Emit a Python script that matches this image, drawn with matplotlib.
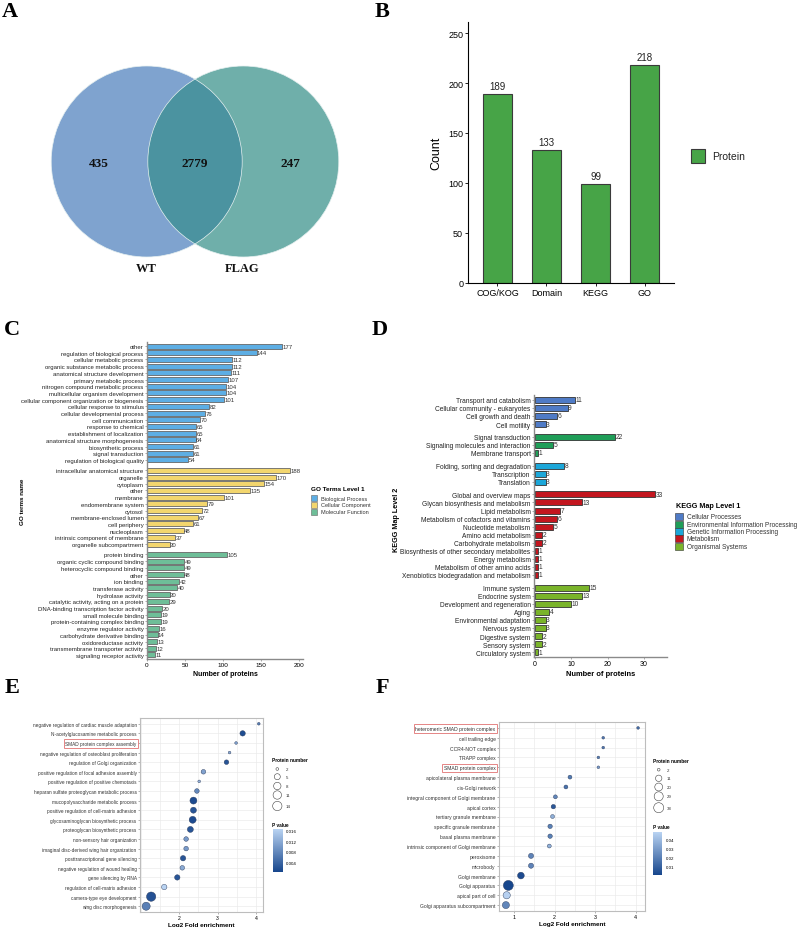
import matplotlib
matplotlib.use("Agg")
import matplotlib.pyplot as plt
import numpy as np
from matplotlib.patches import Circle, Rectangle
from matplotlib.colors import LinearSegmentedColormap, Normalize
from matplotlib.cm import ScalarMappable

plt.rcParams['font.family'] = ['Liberation Sans', 'DejaVu Sans']

# ---------------- data ----------------
venn_sets = ['WT', 'FLAG']
venn_counts = [435, 2779, 247]          # WT only, shared, FLAG only

anno_db = ['COG/KOG', 'Domain', 'KEGG', 'GO']
anno_counts = [189, 133, 99, 218]

go_levels = ['Biological Process', 'Cellular Component', 'Molecular Function']
go_bp_terms = ['other', 'regulation of biological process', 'cellular metabolic process',
               'organic substance metabolic process', 'anatomical structure development',
               'primary metabolic process', 'nitrogen compound metabolic process',
               'multicellular organism development', 'cellular component organization or biogenesis',
               'cellular response to stimulus', 'cellular developmental process', 'cell communication',
               'response to chemical', 'establishment of localization',
               'anatomical structure morphogenesis', 'biosynthetic process', 'signal transduction',
               'regulation of biological quality']
go_bp_counts = [177, 144, 112, 112, 111, 107, 104, 104, 101, 82, 76, 70, 65, 65, 64, 61, 61, 54]
go_cc_terms = ['intracellular anatomical structure', 'organelle', 'cytoplasm', 'other', 'membrane',
               'endomembrane system', 'cytosol', 'membrane-enclosed lumen', 'cell periphery',
               'nucleoplasm', 'intrinsic component of membrane', 'organelle subcompartment']
go_cc_counts = [188, 170, 154, 135, 101, 79, 72, 67, 61, 48, 37, 30]
go_mf_terms = ['protein binding', 'organic cyclic compound binding', 'heterocyclic compound binding',
               'other', 'ion binding', 'transferase activity', 'hydrolase activity',
               'catalytic activity, acting on a protein', 'DNA-binding transcription factor activity',
               'small molecule binding', 'protein-containing complex binding',
               'enzyme regulator activity', 'carbohydrate derivative binding',
               'oxidoreductase activity', 'transmembrane transporter activity',
               'signaling receptor activity']
go_mf_counts = [105, 49, 49, 48, 42, 40, 30, 29, 20, 19, 19, 16, 14, 13, 12, 11]

kegg_levels = ['Cellular Processes', 'Environmental Information Processing',
               'Genetic Information Processing', 'Metabolism', 'Organismal Systems']
kegg_cp_terms = ['Transport and catabolism', 'Cellular community - eukaryotes',
                 'Cell growth and death', 'Cell motility']
kegg_cp_counts = [11, 9, 6, 3]
kegg_eip_terms = ['Signal transduction', 'Signaling molecules and interaction', 'Membrane transport']
kegg_eip_counts = [22, 5, 1]
kegg_gip_terms = ['Folding, sorting and degradation', 'Transcription', 'Translation']
kegg_gip_counts = [8, 3, 3]
kegg_met_terms = ['Global and overview maps', 'Glycan biosynthesis and metabolism', 'Lipid metabolism',
                  'Metabolism of cofactors and vitamins', 'Nucleotide metabolism',
                  'Amino acid metabolism', 'Carbohydrate metabolism',
                  'Biosynthesis of other secondary metabolites', 'Energy metabolism',
                  'Metabolism of other amino acids', 'Xenobiotics biodegradation and metabolism']
kegg_met_counts = [33, 13, 7, 6, 5, 2, 2, 1, 1, 1, 1]
kegg_os_terms = ['Immune system', 'Endocrine system', 'Development and regeneration', 'Aging',
                 'Environmental adaptation', 'Nervous system', 'Digestive system',
                 'Sensory system', 'Circulatory system']
kegg_os_counts = [15, 13, 10, 4, 3, 3, 2, 2, 1]

e_terms = ['negative regulation of cardiac muscle adaptation', 'N-acetylglucosamine metabolic process',
           'SMAD protein complex assembly', 'negative regulation of osteoblast proliferation',
           'regulation of Golgi organization', 'positive regulation of focal adhesion assembly',
           'positive regulation of positive chemotaxis',
           'heparan sulfate proteoglycan metabolic process', 'mucopolysaccharide metabolic process',
           'positive regulation of cell-matrix adhesion', 'glycosaminoglycan biosynthetic process',
           'proteoglycan biosynthetic process', 'non-sensory hair organization',
           'imaginal disc-derived wing hair organization', 'posttranscriptional gene silencing',
           'negative regulation of wound healing', 'gene silencing by RNA',
           'regulation of cell-matrix adhesion', 'camera-type eye development',
           'wing disc morphogenesis']
e_fold = [4.07, 3.65, 3.48, 3.31, 3.23, 2.63, 2.52, 2.46, 2.37, 2.37, 2.35, 2.29, 2.18, 2.18,
          2.10, 2.08, 1.95, 1.61, 1.27, 1.14]
e_count = [2, 4, 2, 2, 3, 3, 2, 3, 7, 5, 7, 5, 3, 3, 4, 3, 4, 4, 14, 10]
e_pval = [0.007, 0.001, 0.011, 0.012, 0.002, 0.011, 0.013, 0.008, 0.0008, 0.002, 0.0008, 0.002,
          0.010, 0.010, 0.002, 0.012, 0.002, 0.0167, 0.0015, 0.007]
e_highlight = ['SMAD protein complex assembly']

f_terms = ['heteromeric SMAD protein complex', 'cell trailing edge', 'CCR4-NOT complex',
           'TRAPP complex', 'SMAD protein complex', 'apicolateral plasma membrane',
           'cis-Golgi network', 'integral component of Golgi membrane', 'apical cortex',
           'tertiary granule membrane', 'specific granule membrane', 'basal plasma membrane',
           'intrinsic component of Golgi membrane', 'peroxisome', 'microbody', 'Golgi membrane',
           'Golgi apparatus', 'apical part of cell', 'Golgi apparatus subcompartment']
f_fold = [4.06, 3.20, 3.20, 3.08, 3.08, 2.38, 2.28, 2.02, 1.97, 1.95, 1.89, 1.89, 1.87,
          1.42, 1.42, 1.17, 0.86, 0.82, 0.80]
f_count = [2, 2, 2, 2, 2, 3, 3, 3, 4, 3, 4, 4, 3, 6, 6, 13, 38, 16, 15]
f_pval = [0.014, 0.017, 0.017, 0.02, 0.03, 0.018, 0.015, 0.022, 0.006, 0.036, 0.02, 0.02, 0.036,
          0.021, 0.021, 0.002, 0.0003, 0.047, 0.022]
f_highlight = ['heteromeric SMAD protein complex', 'SMAD protein complex']

# ---------------- figure ----------------
W, H = 798, 928
fig = plt.figure(figsize=(W / 100, H / 100), dpi=100)


def ax_px(l, t, r, b, **kw):
    return fig.add_axes([l / W, 1 - b / H, (r - l) / W, (b - t) / H], **kw)


# ---- B: annotation counts ----
axB = ax_px(468, 23, 674, 284)
xb = np.arange(1, len(anno_db) + 1)
axB.bar(xb, anno_counts, width=0.6, color='#47A447', edgecolor='#3a3a3a', linewidth=0.8)
for x, v in zip(xb, anno_counts):
    axB.text(x, v + 3, str(v), ha='center', va='bottom', fontsize=7, color='#222')
axB.set_xlim(0.4, 4.6)
axB.set_ylim(0, 261)
axB.set_xticks(xb, anno_db, fontsize=6.5)
axB.set_yticks([0, 50, 100, 150, 200, 250])
axB.tick_params(axis='y', labelsize=6.5, length=2, width=0.6, pad=1.5)
axB.tick_params(axis='x', length=2, width=0.6, pad=1.5)
axB.set_ylabel('Count', fontsize=9, labelpad=4)
for s in ['top', 'right']:
    axB.spines[s].set_visible(False)
for s in ['left', 'bottom']:
    axB.spines[s].set_linewidth(0.8)


# ---- grouped horizontal bars helper ----
def group_hbar(ax, term_lists, value_lists, colors, edge, gap, height, fs, lab_off):
    ys, vals, cols, labs = [], [], [], []
    y = 0.0
    for terms, values, col in zip(term_lists, value_lists, colors):
        for t, v in zip(terms, values):
            ys.append(y); vals.append(v); cols.append(col); labs.append(t)
            y += 1
        y += gap
    ax.barh(ys, vals, height=height, color=cols, edgecolor=edge, linewidth=0.6)
    for yy, v in zip(ys, vals):
        ax.text(v + lab_off, yy, str(v), va='center', ha='left', fontsize=fs, color='#333')
    ax.set_yticks(ys)
    ax.set_yticklabels(labs, fontsize=fs, color='#222')
    ax.set_ylim(ys[-1] + 0.6, -0.6)
    for s in ['top', 'right']:
        ax.spines[s].set_visible(False)
    for s in ['left', 'bottom']:
        ax.spines[s].set_color('#8a8a8a')
        ax.spines[s].set_linewidth(1.0)
    ax.tick_params(length=1.5, width=0.5, color='#888', pad=1)


# ---- C: GO ----
go_colors = ['#5DAEE4', '#F3D66E', '#6EBE98']
axC = ax_px(147, 343, 303, 660)
group_hbar(axC, [go_bp_terms, go_cc_terms, go_mf_terms],
           [go_bp_counts, go_cc_counts, go_mf_counts], go_colors, '#666666', 0.55, 0.75, 4.3, 0.5)
axC.set_xlim(0, 205)
axC.set_xticks([0, 50, 100, 150, 200])
axC.tick_params(axis='x', labelsize=4.6)
axC.set_xlabel('Number of proteins', fontsize=5, fontweight='bold', labelpad=2)

# ---- D: KEGG ----
kegg_colors = ['#4F7BC6', '#1F9E58', '#1CA7D9', '#C3161F', '#7AB42A']
axD = ax_px(534, 396, 667, 658)
group_hbar(axD, [kegg_cp_terms, kegg_eip_terms, kegg_gip_terms, kegg_met_terms, kegg_os_terms],
           [kegg_cp_counts, kegg_eip_counts, kegg_gip_counts, kegg_met_counts, kegg_os_counts],
           kegg_colors, '#333333', 0.58, 0.75, 4.8, 0.15)
axD.set_xlim(-0.2, 36.3)
axD.set_xticks([0, 10, 20, 30])
axD.tick_params(axis='x', labelsize=5)
axD.set_xlabel('Number of proteins', fontsize=5.4, fontweight='bold', labelpad=2)

# ---- E / F: dot plots ----
cmap_p = LinearSegmentedColormap.from_list('pv', ['#17468C', '#B9D3F2'])


def size_fn(v, vmin, vmax, dmax):
    v = np.asarray(v, dtype=float)
    d_px = 2.7 + (dmax - 2.7) * np.sqrt((v - vmin) / (vmax - vmin))
    return (d_px * 0.72) ** 2


def dot_panel(ax, terms, fold, counts, pvals, pmin, pmax, cmin, cmax, dmax, fs, highlight):
    y = np.arange(len(terms))
    ax.set_facecolor('white')
    ax.scatter(fold, y, s=size_fn(counts, cmin, cmax, dmax), c=pvals, cmap=cmap_p,
               vmin=pmin, vmax=pmax, edgecolors='#2a3a5a', linewidths=0.3, zorder=3)
    ax.set_yticks(y)
    ax.set_yticklabels(terms, fontsize=fs, color='#333')
    ax.set_ylim(len(terms) - 0.4, -0.6)
    ax.set_xticks(np.arange(1, 4.6, 0.5), minor=True)
    ax.grid(True, which='both', axis='x', color='#EBEBEB', linewidth=0.5, zorder=0)
    ax.grid(True, which='major', axis='y', color='#EBEBEB', linewidth=0.5, zorder=0)
    ax.set_axisbelow(True)
    for s in ax.spines.values():
        s.set_color('#BDBDBD')
        s.set_linewidth(0.8)
    ax.tick_params(which='major', length=1.5, width=0.4, color='#777', pad=1, labelsize=fs)
    ax.tick_params(which='minor', length=0)
    ax.tick_params(axis='x', labelsize=fs + 0.3)
    ax.set_xlabel('Log2 Fold enrichment', fontsize=4.6, fontweight='bold', labelpad=1)
    for lab in ax.get_yticklabels():
        if lab.get_text() in highlight:
            lab.set_bbox(dict(boxstyle='square,pad=0.35', fc='none', ec='#E58585', lw=0.7))


axE = ax_px(140, 719, 263, 913)
dot_panel(axE, e_terms, e_fold, e_count, e_pval, 0.0002, 0.0167, 2, 14, 9.3, 3.4, e_highlight)
axE.set_xlim(0.98, 4.18)
axE.set_xticks([2, 3, 4])

axF = ax_px(499, 723, 645, 912)
dot_panel(axF, f_terms, f_fold, f_count, f_pval, 0.0002, 0.048, 2, 38, 10.0, 3.6, f_highlight)
axF.set_xlim(0.63, 4.23)
axF.set_xticks([1, 2, 3, 4])

# colorbars
caxE = ax_px(272.7, 830, 282.7, 873)
cbE = fig.colorbar(ScalarMappable(Normalize(0.0002, 0.0167), cmap_p), cax=caxE,
                   ticks=[0.004, 0.008, 0.012, 0.016])
cbE.ax.set_yticklabels(['0.004', '0.008', '0.012', '0.016'])
caxF = ax_px(653.3, 833, 662, 876)
cbF = fig.colorbar(ScalarMappable(Normalize(0.0002, 0.048), cmap_p), cax=caxF,
                   ticks=[0.01, 0.02, 0.03, 0.04])
cbF.ax.set_yticklabels(['0.01', '0.02', '0.03', '0.04'])
for cb in (cbE, cbF):
    cb.outline.set_visible(False)
    cb.ax.tick_params(length=1.5, width=0.4, color='white', labelsize=3.2, pad=1)

# ---------------- overlay (pixel coordinates) ----------------
ov = fig.add_axes([0, 0, 1, 1], facecolor='none')
ov.set_xlim(0, W)
ov.set_ylim(H, 0)
ov.axis('off')

# ---- A: Venn ----
cL = Circle((146.7, 162.5), 95.5, fc='#7FA3CF', ec='none')
cR = Circle((243.3, 162.5), 95.5, fc='#6FAFAA', ec='none')
ov.add_patch(cL)
ov.add_patch(cR)
cI = Circle((146.7, 162.5), 95.5, fc='#4B93A0', ec='none')
ov.add_patch(cI)
cI.set_clip_path(cR)
for cc in [(146.7, 162.5), (243.3, 162.5)]:
    ov.add_patch(Circle(cc, 95.5, fc='none', ec='#E6F0F0', lw=0.5))
serif = ['Liberation Serif', 'DejaVu Serif']
for x, v in zip([99, 195, 290.7], venn_counts):
    ov.text(x, 164, str(v), ha='center', va='center', fontsize=9.5, fontweight='bold',
            family=serif, color='#111')
for x, s in zip([146.7, 242], venn_sets):
    ov.text(x, 269, s, ha='center', va='center', fontsize=9, fontweight='bold',
            family=serif, color='#111')

# panel letters
for lab, x, y in [('A', 10, 12), ('B', 382, 12), ('C', 11.5, 330), ('D', 380, 330),
                  ('E', 11.7, 688), ('F', 382, 688)]:
    ov.text(x, y, lab, ha='center', va='center', fontsize=16, fontweight='bold', family=serif)

# B legend
ov.add_patch(Rectangle((690.7, 150), 14.3, 14, fc='#47A447', ec='#3a3a3a', lw=0.8))
ov.text(712, 157.5, 'Protein', ha='left', va='center', fontsize=7.5, color='#222')

# C legend and y label
ov.text(311, 489.7, 'GO Terms Level 1', ha='left', va='center', fontsize=4.6, fontweight='bold')
for i, (lv, col) in enumerate(zip(go_levels, go_colors)):
    yy = 499.3 + 6.7 * i
    ov.add_patch(Rectangle((311, yy - 2.9), 5.8, 5.8, fc=col, ec='#666', lw=0.4))
    ov.text(321, yy, lv, ha='left', va='center', fontsize=4.1, color='#333')
ov.text(22.7, 502, 'GO terms name', rotation=90, ha='center', va='center', fontsize=4.5,
        fontweight='bold')

# D legend and y label
ov.text(676, 506.7, 'KEGG Map Level 1', ha='left', va='center', fontsize=5.2, fontweight='bold')
for i, (lv, col) in enumerate(zip(kegg_levels, kegg_colors)):
    yy = 517.7 + 7.4 * i
    ov.add_patch(Rectangle((675.3, yy - 3.5), 7.2, 7.0, fc=col, ec='#333', lw=0.4))
    ov.text(686.7, yy, lv, ha='left', va='center', fontsize=4.7, color='#333')
ov.text(397, 520, 'KEGG Map Level 2', rotation=90, ha='center', va='center', fontsize=5.2,
        fontweight='bold')

# E / F size legends and colorbar titles
def size_legend(x0, xc, xt, ytitle, ys, vals, cmin, cmax, dmax, ptitle_y):
    ov.text(x0, ytitle, 'Protein number', ha='left', va='center', fontsize=3.4, fontweight='bold')
    ov.scatter([xc] * len(vals), ys, s=size_fn(vals, cmin, cmax, dmax), facecolors='white',
               edgecolors='#444', linewidths=0.4)
    for yy, v in zip(ys, vals):
        ov.text(xt, yy, str(v), ha='left', va='center', fontsize=3.2, color='#333')
    ov.text(x0, ptitle_y, 'P value', ha='left', va='center', fontsize=3.4, fontweight='bold')


size_legend(272, 277.3, 285.5, 761, [770, 777.7, 787, 796, 807], [2, 5, 8, 11, 14], 2, 14, 9.3, 825.7)
size_legend(653, 658.7, 667, 762, [770.7, 779.3, 788, 797.3, 808.7], [2, 11, 20, 29, 38], 2, 38, 10.0, 827.7)

fig.savefig('out.png', dpi=100)
